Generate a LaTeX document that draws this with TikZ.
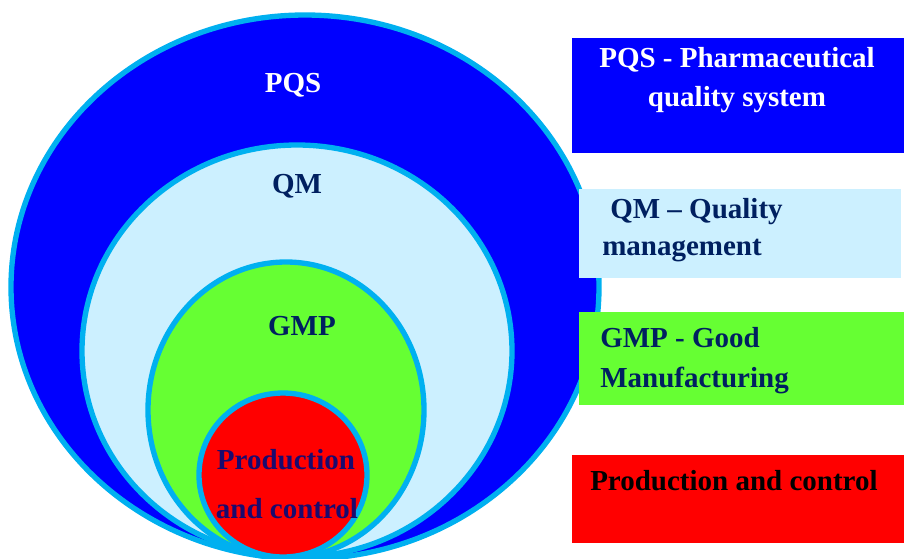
\documentclass[tikz,border=0pt]{standalone}
\usepackage{fontspec}
\setmainfont{Liberation Serif}
\definecolor{pqs}{RGB}{0, 0, 255}
\definecolor{qm}{RGB}{204, 240, 255}
\definecolor{gmp}{RGB}{102, 255, 51}
\definecolor{pc}{RGB}{255, 0, 0}
\definecolor{rim}{RGB}{0, 176, 240}
\definecolor{navy}{RGB}{0, 32, 96}
\definecolor{ink}{RGB}{26, 10, 110}

\begin{document}
\begin{tikzpicture}[x=0.75pt, y=-0.75pt,
    ring/.style={draw=rim, line width=4pt},
    lbl/.style={font=\bfseries\fontsize{21.75}{29}\selectfont, inner sep=0pt, anchor=base}]
      \useasboundingbox (0,0) rectangle (904,558);
      \clip (0,0) rectangle (904,558);

      % nested circles
      \filldraw[ring, fill=pqs] (305,287) ellipse [x radius=294, y radius=272];
      \filldraw[ring, fill=qm]  (297,351) ellipse [x radius=215, y radius=206];
      \filldraw[ring, fill=gmp] (286,410) ellipse [x radius=138, y radius=148];
      \filldraw[ring, fill=pc]  (283,475) ellipse [x radius=84, y radius=82];

      \node[lbl, white] (Pqs)  at (293, 92)  {PQS};
      \node[lbl, navy]  (Qm)   at (297, 193) {QM};
      \node[lbl, navy]  (Gmp)  at (302, 335) {GMP};
      \node[lbl, ink]   (Prod) at (286, 469) {Production};
      \node[lbl, ink]   (Ctrl) at (287, 518) {and control};

      % legend boxes
      \fill[pqs] (572,38)  rectangle (904,153);
      \fill[qm]  (579,189) rectangle (901,278);
      \fill[gmp] (579,312) rectangle (904,405);
      \fill[pc]  (572,455) rectangle (904,543);

      \node[lbl, white] (PqsA) at (737, 67)  {PQS - Pharmaceutical};
      \node[lbl, white] (PqsB) at (737, 106) {quality system};
      \node[lbl, navy, anchor=base west] (QmA)  at (610, 218) {QM -- Quality};
      \node[lbl, navy, anchor=base west] (QmB)  at (602, 255) {management};
      \node[lbl, navy, anchor=base west] (GmpA) at (600, 347) {GMP - Good};
      \node[lbl, navy, anchor=base west] (GmpB) at (600, 387) {Manufacturing};
      \node[lbl, black, anchor=base west] (PcA) at (590, 490) {Production and control};
    \end{tikzpicture}
\end{document}
